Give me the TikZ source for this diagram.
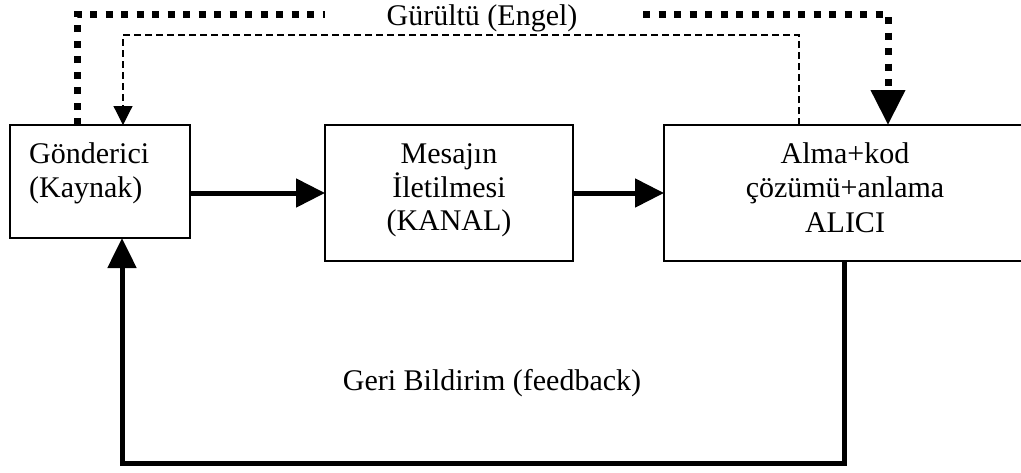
\documentclass[tikz,border=0pt]{standalone}
\usepackage{fontspec}
\setmainfont{Liberation Serif}
\usetikzlibrary{arrows.meta}
\begin{document}
\begin{tikzpicture}[x=1pt,y=-1pt,
  box/.style={draw,line width=1.8pt,rectangle,inner sep=0pt,outer sep=0pt},
  txt/.style={font=\fontsize{30}{34}\selectfont,inner sep=0pt,anchor=base},
  txtl/.style={txt,anchor=base west},
  flow/.style={line width=5pt,-{Triangle[length=29pt,width=28pt]}},
  back/.style={line width=5pt,line join=miter,-{Triangle[length=30pt,width=28pt]}},
  noise/.style={line width=7pt,dash pattern=on 7pt off 8.5pt,line join=miter},
  noisearrow/.style={noise,-{Triangle[length=35pt,width=33pt]}},
  ctrl/.style={line width=1.2pt,dash pattern=on 7pt off 4pt,-{Triangle[length=19pt,width=19pt]}}
]
\useasboundingbox (0,0) rectangle (1021,472);
\clip (0,0) rectangle (1021,472);

% the three blocks
\node[box,minimum width=180pt,minimum height=113pt] (src) at (100,181.5) {};
\node[box,minimum width=248pt,minimum height=136pt] (chan) at (449,193) {};
\node[box,minimum width=360pt,minimum height=136pt] (rcv) at (844,193) {};

% block texts
\node[txtl] (s1) at (29,163) {Gönderici};
\node[txtl] (s2) at (29,197) {(Kaynak)};
\node[txt] (c1) at (449,163) {Mesajın};
\node[txt] (c2) at (449,197) {İletilmesi};
\node[txt] (c3) at (449,230) {(KANAL)};
\node[txt] (r1) at (845,163) {Alma+kod};
\node[txt] (r2) at (845,197) {çözümü+anlama};
\node[txt] (r3) at (845,232) {ALICI};

% main flow
\draw[flow] (src.east |- 0,193) -- (chan.west |- 0,193);
\draw[flow] (chan.east |- 0,193) -- (rcv.west |- 0,193);

% feedback loop
\coordinate (fbR) at (844,463);
\coordinate (fbL) at (122,463);
\draw[back] (fbR |- rcv.south) -- (fbR) -- (fbL) -- (fbL |- src.south);
\node[txt] (fb) at (492,390) {Geri Bildirim (feedback)};

% noise
\node[txt] (noiselbl) at (482,25) {Gürültü (Engel)};
\coordinate (nA) at (77,14);
\coordinate (nB) at (325,14);
\coordinate (nC) at (643,14);
\coordinate (nD) at (888,14);
\draw[noise] (nA |- src.north) -- (nA) -- (nB);
\draw[noisearrow] (nC) -- (nD) -- (nD |- rcv.north);

\coordinate (dR) at (799,35);
\coordinate (dL) at (123,35);
\draw[ctrl] (dR |- rcv.north) -- (dR) -- (dL) -- (dL |- src.north);
\end{tikzpicture}
\end{document}
